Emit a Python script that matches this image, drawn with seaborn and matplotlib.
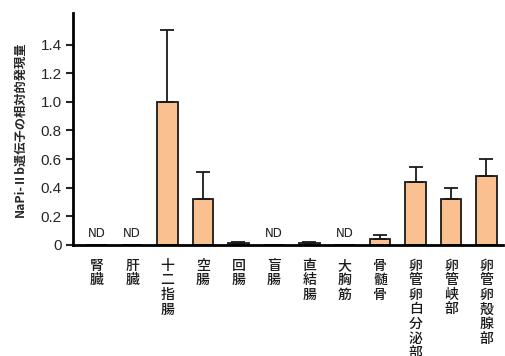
import numpy as np
import pandas as pd
import matplotlib
matplotlib.use('Agg')
import matplotlib.pyplot as plt
import seaborn as sns

# Tissues and relative expression (ND = not detected)
tissues = ['腎臓', '肝臓', '十二指腸', '空腸', '回腸', '盲腸', '直結腸', '大胸筋',
           '骨髄骨', '卵管卵白分泌部', '卵管峡部', '卵管卵殻腺部']
means = [0, 0, 1.00, 0.32, 0.010, 0, 0.015, 0, 0.04, 0.44, 0.32, 0.48]
errors = [0, 0, 0.50, 0.19, 0.008, 0, 0.008, 0, 0.028, 0.105, 0.08, 0.12]
not_detected = [True, True, False, False, False, True, False, True, False, False, False, False]

df = pd.DataFrame({'tissue': tissues, 'value': means})

sns.set_style('ticks')
plt.rcParams['font.family'] = ['Noto Sans CJK JP', 'DejaVu Sans']

fig = plt.figure(figsize=(5.06, 3.56), dpi=100)
ax = fig.add_axes([0.144, 0.312, 0.851, 0.651])

sns.barplot(data=df, x='tissue', y='value', color='#FAC090', edgecolor='#1a1a1a',
            linewidth=1.3, width=0.58, saturation=1, ax=ax)

x = np.arange(len(tissues))
err = np.array(errors)
ax.errorbar(x, means, yerr=[np.zeros_like(err), err], fmt='none', ecolor='#1a1a1a',
            elinewidth=1.3, capsize=5, capthick=1.3)

for xi, nd in zip(x, not_detected):
    if nd:
        ax.text(xi, 0.035, 'ND', ha='center', va='bottom', fontsize=8.5, color='#222222',
                family=['DejaVu Sans'])

ax.set_xlim(-0.67, 11.48)
ax.set_ylim(0, 1.62)
ax.set_yticks([0, 0.2, 0.4, 0.6, 0.8, 1.0, 1.2, 1.4])
ax.set_yticklabels(['0', '0.2', '0.4', '0.6', '0.8', '1.0', '1.2', '1.4'], fontsize=11,
                   family=['Liberation Sans', 'DejaVu Sans'])
ax.set_xticks(x)
ax.set_xticklabels(['\n'.join(t) for t in tissues], fontsize=10, linespacing=1.05,
                   va='top', fontweight='medium', color='#1a1a1a')
ax.tick_params(axis='x', length=0, pad=10)
ax.tick_params(axis='y', length=5, width=1.5, direction='out', pad=3)
ax.set_xlabel('')
ax.set_ylabel('NaPi-Ⅱb遺伝子の相対的発現量', fontsize=8.8, fontweight='bold', labelpad=10)
for side in ['top', 'right']:
    ax.spines[side].set_visible(False)
for side in ['left', 'bottom']:
    ax.spines[side].set_linewidth(2)
    ax.spines[side].set_color('black')

fig.savefig('out.png', dpi=100)
